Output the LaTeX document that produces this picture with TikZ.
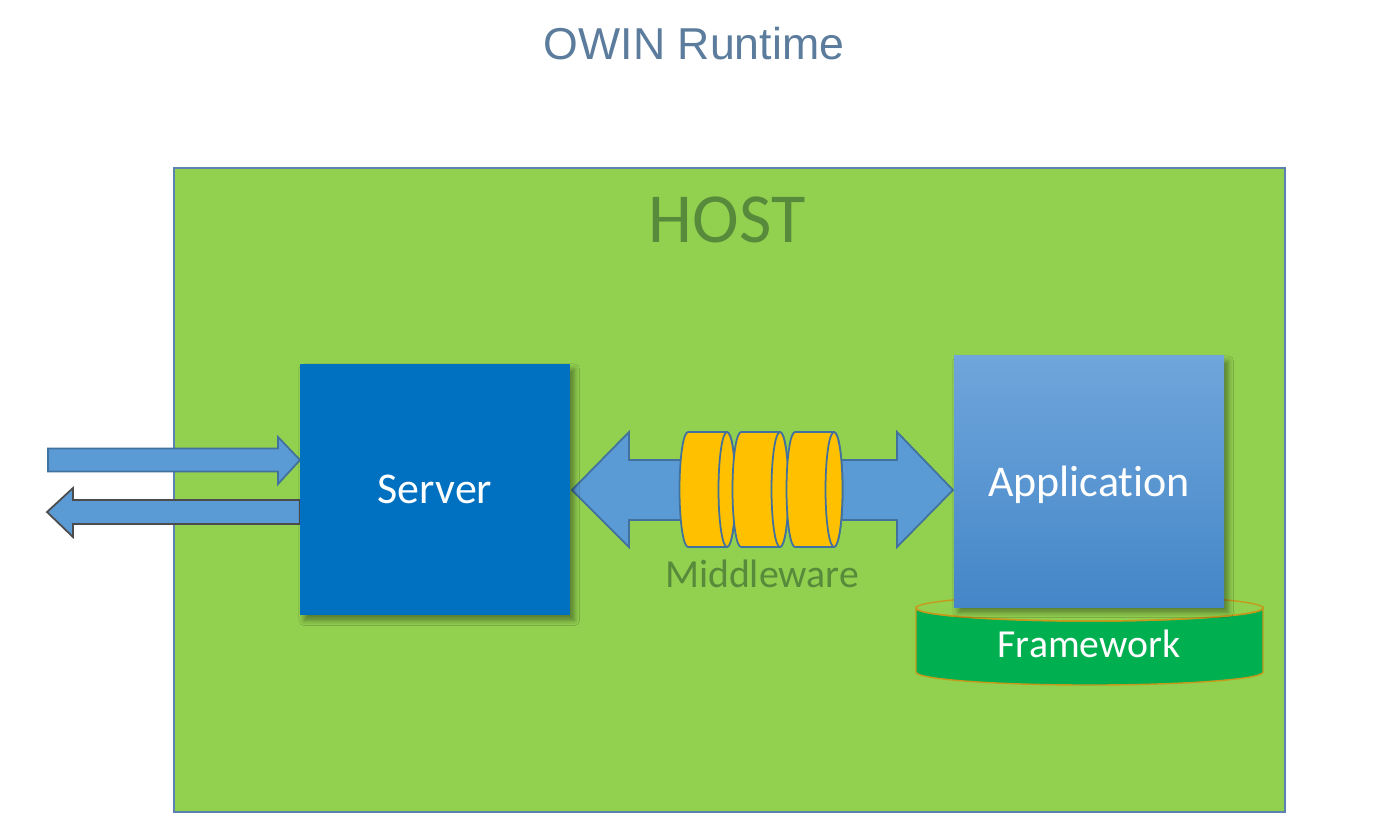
\documentclass[tikz,border=0pt]{standalone}
\usepackage{fontspec}
\setmainfont[Ligatures=NoCommon]{Carlito}
\newfontfamily\titlefont{Liberation Sans}
\usepackage{tikz}
\usetikzlibrary{positioning}
\usetikzlibrary{calc,shadows,shadows.blur}
\definecolor{hostgreen}{HTML}{92D050}
\definecolor{hostline}{HTML}{5B82B0}
\definecolor{hosttext}{HTML}{578A3A}
\definecolor{serverblue}{HTML}{0070C0}
\definecolor{apptop}{HTML}{6FA6DB}
\definecolor{appbottom}{HTML}{4486C8}
\definecolor{arrowblue}{HTML}{5B9BD5}
\definecolor{arrowline}{HTML}{41719C}
\definecolor{diskyellow}{HTML}{FFC000}
\definecolor{fwgreen}{HTML}{00B050}
\definecolor{fwline}{HTML}{C59A1B}
\definecolor{titleblue}{HTML}{5B7C9C}
\tikzset{
    every picture/.style={>=stealth,x=0.01cm,y=-0.01cm},
    box/.style={draw=none,minimum width=2.70cm,minimum height=2.51cm,text=white,
      font=\fontsize{12.5}{15}\selectfont,
      blur shadow={shadow xshift=1.2pt,shadow yshift=-1.5pt,shadow blur radius=1.5pt,
        shadow blur extra rounding=0pt,shadow blur steps=5,shadow opacity=40}},
    blockarrow/.style={fill=arrowblue,draw=arrowline,line width=0.5pt,line join=miter},
    disk/.style={fill=diskyellow,draw=arrowline,line width=0.5pt},
    greentext/.style={text=hosttext,inner sep=0pt,anchor=base},
}

\begin{document}
\begin{tikzpicture}
\useasboundingbox[fill=white] (0,0) rectangle (1388,829);

% title and host
\node[text=titleblue,font=\titlefont\fontsize{12.7}{15}\selectfont,inner sep=0pt,anchor=base] (title) at (694,59) {OWIN Runtime};
\node[fill=hostgreen,draw=hostline,line width=0.5pt,minimum width=11.11cm,minimum height=6.44cm] (host) at (729.5,490) {};
\node[greentext,font=\fontsize{20}{24}\selectfont] (hostlabel) at (727,242) {HOST};

% outside arrows
\coordinate (in) at (48,460);
\coordinate (out) at (47,512);
\draw[blockarrow] ($(in)+(0,-11.5)$) -- (278,448.5) -- (278,437) -- (300,460) -- (278,484) -- (278,471.5) -- ($(in)+(0,11.5)$) -- cycle;
\draw[blockarrow,draw=black!70] (out) -- (73,488) -- (73,500) -- (300,500) -- (300,524) -- (73,524) -- (73,537) -- cycle;

% middleware arrow and disks
\coordinate (mwl) at (572,490);
\coordinate (mwr) at (953,490);
\draw[blockarrow] (mwl) -- ++(57,-58) -- ++(0,28) -- (897,460) -- (897,432) -- (mwr)
  -- (897,547) -- (897,520) -- (629,520) -- (629,547) -- cycle;
\foreach \cx in {688,741,795}{
  \draw[disk] (\cx,432) -- (\cx+39,432) arc[start angle=-90,end angle=90,x radius=8.5,y radius=57.5]
    -- (\cx,547) arc[start angle=90,end angle=270,x radius=8.5,y radius=57.5] -- cycle;
  \draw[disk] (\cx+39,489.5) ellipse[x radius=8.5,y radius=57.5];
}
\node[greentext,font=\fontsize{11.3}{14}\selectfont] (mwlabel) at (762,587) {Middleware};

% framework under the application
\draw[fill=fwgreen,draw=fwline,line width=0.4pt] (916,608) -- (916,672)
  arc[start angle=180,end angle=0,x radius=173.5,y radius=13] -- (1263,608)
  arc[start angle=0,end angle=180,x radius=173.5,y radius=13] -- cycle;
\draw[draw=fwline,line width=0.4pt] (1089.5,608) ellipse[x radius=173.5,y radius=13];
\node[text=white,font=\fontsize{11.3}{14}\selectfont,inner sep=0pt,anchor=base] (framework) at (1089,657) {Framework};

% server and application
\node[box,fill=serverblue] (server) at (435,489.5) {Server};
\node[box,top color=apptop,bottom color=appbottom,text depth=0pt] (app) at (1089,481.5) {Application};

\end{tikzpicture}
\end{document}
